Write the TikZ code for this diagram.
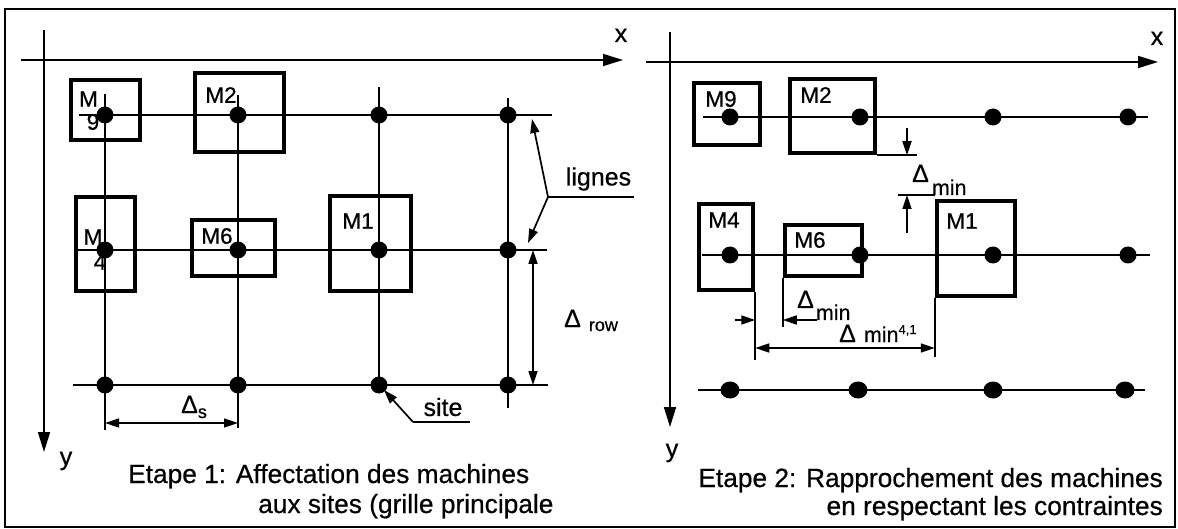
\documentclass[tikz,border=0pt]{standalone}
\usepackage{fontspec}
\setmainfont[FakeBold=0.6]{Liberation Sans}
\usetikzlibrary{arrows.meta,calc,shapes.geometric}
\newcommand\fsz[1]{\fontsize{#1}{#1}\selectfont}
\begin{document}
\begin{tikzpicture}[x=1pt,y=-1pt,
  gl/.style={line width=1.7pt},
  mbox/.style={draw,line width=4.5pt,inner sep=0pt},
  dot/.style={circle,fill=black,inner sep=0pt,minimum size=17pt},
  axis/.style={line width=1.7pt,-{Triangle[length=20pt,width=12pt]}},
  onearr/.style={line width=1.7pt,-{Triangle[length=14pt,width=9pt]}},
  dimarr/.style={line width=1.7pt,{Triangle[length=14pt,width=9pt]}-{Triangle[length=14pt,width=9pt]}},
  ml/.style={inner sep=0pt,font=\fsz{22.5}},
  lbl/.style={inner sep=0pt,font=\fsz{25}},
  dl/.style={inner sep=0pt,font=\fsz{25}},
  captxt/.style={inner sep=0pt,font=\fsz{26.3}}]
\useasboundingbox (0,0) rectangle (1178,529);
\draw[line width=2pt] (5,9) rectangle (1175,527);

% ================= Panel 1 =================
\coordinate (p1ya) at (44,30);  \coordinate (p1yb) at (44,452);
\coordinate (p1xa) at (21,60);  \coordinate (p1xb) at (623,60);
\draw[axis] (p1ya) -- (p1yb);
\draw[axis] (p1xa) -- (p1xb);
\node[lbl,anchor=base] (p1xl) at (621,42) {x};
\node[lbl,anchor=base] (p1yl) at (66,465) {y};

\foreach \cx [count=\ci] in {105,238,379,508} {
  \foreach \ry [count=\ri] in {115,250,385} {
    \node[dot] (a\ri\ci) at (\cx,\ry) {};
  }
}
% rows
\coordinate (r1w) at (79,115);  \coordinate (r1e) at (552,115);
\coordinate (r2w) at (78,250);  \coordinate (r2e) at (547,250);
\coordinate (r3w) at (73,385);  \coordinate (r3e) at (548,385);
\draw[gl] (r1w) -- (r1e);
\draw[gl] (r2w) -- (r2e);
\draw[gl] (r3w) -- (r3e);
% columns
\coordinate (c1t) at (105,94);  \coordinate (c1b) at (105,430);
\coordinate (c2t) at (238,95);  \coordinate (c2b) at (238,428);
\coordinate (c3t) at (379,87);  \coordinate (c3b) at (379,392);
\coordinate (c4t) at (508,98);  \coordinate (c4b) at (508,408);
\draw[gl] (c1t) -- (c1b);
\draw[gl] (c2t) -- (c2b);
\draw[gl] (c3t) -- (c3b);
\draw[gl] (c4t) -- (c4b);

% machines
\node[mbox,minimum width=69pt,minimum height=60pt] (p1m9) at (105.5,110) {};
\node[mbox,minimum width=89pt,minimum height=79pt] (p1m2) at (239.5,112.5) {};
\node[mbox,minimum width=59pt,minimum height=94pt] (p1m4) at (105.5,244) {};
\node[mbox,minimum width=83pt,minimum height=56pt] (p1m6) at (233.5,248) {};
\node[mbox,minimum width=81pt,minimum height=95pt] (p1m1) at (370.5,243.5) {};
\node[ml] (p1m9a) at (88.5,99) {M};
\node[ml] (p1m9b) at (93,122) {9};
\node[ml] (p1m2l) at (221,95) {M2};
\node[ml] (p1m4a) at (93,237) {M};
\node[ml] (p1m4b) at (100,262) {4};
\node[ml] (p1m6l) at (217,236) {M6};
\node[ml] (p1m1l) at (358,221) {M1};

% Delta s
\coordinate (ds) at (0,423);
\draw[dimarr] (ds -| a31) -- (ds -| a32);
\node[dl,anchor=base west] (dsl) at (181,413) {Δ\raisebox{-5pt}{\fsz{18}s}};
% Delta row
\coordinate (drw) at (533,0);
\draw[dimarr] (drw |- a24) -- (drw |- a34);
\node[dl,anchor=base west] (drl) at (564,327) {Δ\hspace{8pt}\raisebox{-4pt}{\fsz{18}row}};
% lignes
\node[lbl] (lig) at (598.5,179) {lignes};
\coordinate (lg) at (548,197); \coordinate (lge) at (634,197);
\coordinate (lgt1) at (532,119); \coordinate (lgt2) at (528,243);
\draw[gl] (lg) -- (lge);
\draw[onearr] (lg) -- (lgt1);
\draw[onearr] (lg) -- (lgt2);
% site
\node[lbl] (sit) at (443,407) {site};
\coordinate (st) at (413,422); \coordinate (ste) at (470,422);
\coordinate (stt) at (384,390);
\draw[gl] (st) -- (ste);
\draw[onearr] (st) -- (stt);
% caption
\node[captxt,anchor=base west] (cap1a) at (128,483) {Etape 1: Affectation des machines};
\node[captxt,anchor=base west] (cap1b) at (258,513) {aux sites (grille principale};

% ================= Panel 2 =================
\coordinate (p2ya) at (670,32);  \coordinate (p2yb) at (670,427);
\coordinate (p2xa) at (646,62);  \coordinate (p2xb) at (1158,62);
\draw[axis] (p2ya) -- (p2yb);
\draw[axis] (p2xa) -- (p2xb);
\node[lbl,anchor=base] (p2xl) at (1157,45) {x};
\node[lbl,anchor=base] (p2yl) at (672,457) {y};

\coordinate (s1w) at (703,117);  \coordinate (s1e) at (1148,117);
\coordinate (s2w) at (702,255);  \coordinate (s2e) at (1150,255);
\coordinate (s3w) at (698,390);  \coordinate (s3e) at (1145,390);
\draw[gl] (s1w) -- (s1e);
\draw[gl] (s2w) -- (s2e);
\draw[gl] (s3w) -- (s3e);
\foreach \cx [count=\ci] in {730,860,993,1128} {
  \node[dot] (b1\ci) at (\cx,117) {};
  \node[dot] (b2\ci) at (\cx,255) {};
}
\foreach \cx [count=\ci] in {730,858,993,1125} {
  \node[dot,ellipse,minimum width=19pt,minimum height=17pt] (b3\ci) at (\cx,390) {};
}

\node[mbox,minimum width=66pt,minimum height=62pt] (p2m9) at (727,114) {};
\node[mbox,minimum width=85pt,minimum height=74pt] (p2m2) at (832.5,116) {};
\node[mbox,minimum width=54pt,minimum height=86pt] (p2m4) at (726,247) {};
\node[mbox,minimum width=77pt,minimum height=51pt] (p2m6) at (823.5,250.5) {};
\node[mbox,minimum width=78pt,minimum height=95pt] (p2m1) at (976,248.5) {};
\node[ml] (p2m9l) at (721,99) {M9};
\node[ml] (p2m2l) at (816,95) {M2};
\node[ml] (p2m4l) at (724,220) {M4};
\node[ml] (p2m6l) at (810,240) {M6};
\node[ml] (p2m1l) at (962,221) {M1};

% vertical Delta min
\coordinate (ve1) at ($(p2m2.south east)+(40,0)$);
\draw[gl] (p2m2.south east) -- (ve1);
\coordinate (dv1) at (907,128);
\draw[onearr] (dv1) -- (dv1 |- p2m2.south);
\coordinate (ve2) at (898,195);
\draw[gl] (ve2) -- (ve2 -| p2m1.west);
\coordinate (dv2) at (907,233);
\draw[onearr] (dv2) -- (dv2 |- ve2);
\node[dl,anchor=base west] (dvl) at (912,182) {Δ\hspace{3pt}\raisebox{-13pt}{\fsz{21.5}min}};

% horizontal Delta min
\coordinate (e4b) at (0,360);
\coordinate (e6b) at (0,327);
\coordinate (e1b) at (0,357);
\draw[gl] (p2m4.south east) -- (p2m4.south east |- e4b);
\draw[gl] (p2m6.south west) -- (p2m6.south west |- e6b);
\draw[gl] (p2m1.south west) -- (p2m1.south west |- e1b);
\coordinate (dh1) at (735,320); \coordinate (dh2) at (817,320);
\draw[onearr] (dh1) -- (dh1 -| p2m4.east);
\draw[onearr] (dh2) -- (dh2 -| p2m6.west);
\node[dl,anchor=base west] (dhl) at (797,308) {Δ\hspace{2pt}\raisebox{-12pt}{\fsz{21.5}min}};
% Delta min 4,1
\coordinate (dl41) at (0,348);
\draw[dimarr] (dl41 -| p2m4.east) -- (dl41 -| p2m1.west);
\node[dl,anchor=base west] (d41l) at (839,342) {Δ\hspace{8pt}{\fsz{21.5}min}\raisebox{8pt}{\fsz{13}4,1}};

\node[captxt,anchor=base east] (cap2a) at (1163,487) {Etape 2: Rapprochement des machines};
\node[captxt,anchor=base east] (cap2b) at (1163,515) {en respectant les contraintes};
\end{tikzpicture}
\end{document}
